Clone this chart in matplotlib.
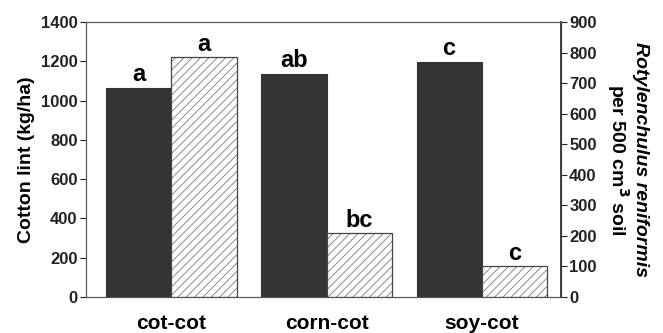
import matplotlib
matplotlib.use("Agg")
import matplotlib.pyplot as plt
import numpy as np

ROTATIONS = ["cot-cot", "corn-cot", "soy-cot"]  # crop sequences
LINT = [1064, 1135, 1196]  # cotton lint [kg/ha], left axis
NEMATODES = [785, 209, 101]  # R. reniformis per 500 cm3 soil, right axis
LINT_LETTERS = ["a", "ab", "c"]
NEMA_LETTERS = ["a", "bc", "c"]

plt.rcParams['font.family'] = ['Liberation Sans', 'DejaVu Sans']
plt.rcParams['font.weight'] = 'bold'
plt.rcParams['hatch.linewidth'] = 0.7

DARK = "#333333"
W = 0.42

fig = plt.figure(figsize=(6.63, 3.33), dpi=100)
ax1 = fig.add_axes([0.1297, 0.108, 0.7163, 0.826])
ax2 = ax1.twinx()

x = np.arange(len(ROTATIONS))

# yield bars (left axis)
ax1.bar(x - W / 2, LINT, W, color=DARK, edgecolor=DARK, linewidth=0.8)
for xi, v, t in zip(x, LINT, LINT_LETTERS):
    ax1.text(xi - W / 2, v + 8, t, ha="center", va="bottom", fontsize=17, fontweight="bold")

# nematode bars (right axis), hatch drawn in grey then outlined
ax2.bar(x + W / 2, NEMATODES, W, color="white", edgecolor="#8a8a8a", hatch="////", linewidth=0)
ax2.bar(x + W / 2, NEMATODES, W, fill=False, edgecolor="#444444", linewidth=0.9)
for xi, v, t in zip(x, NEMATODES, NEMA_LETTERS):
    ax2.text(xi + W / 2, v + 5, t, ha="center", va="bottom", fontsize=17, fontweight="bold")

ax1.set_xlim(-0.55, 2.51)
ax1.set_ylim(0, 1400)
ax1.set_yticks(range(0, 1401, 200))
ax2.set_ylim(0, 900)
ax2.set_yticks(range(0, 901, 100))

ax1.set_xticks(x)
ax1.set_xticklabels(ROTATIONS, fontsize=15, fontweight="bold")
ax1.tick_params(axis="x", length=0, pad=12)
ax1.tick_params(axis="y", labelsize=12, length=4, width=0.8, pad=2, colors="#222222")
ax2.tick_params(axis="y", labelsize=12, length=4, width=0.8, pad=2, colors="#222222")

for sp in ax1.spines.values():
    sp.set_linewidth(0.8)
    sp.set_color("#555555")
for sp in ax2.spines.values():
    sp.set_linewidth(0.8)
    sp.set_color("#555555")
ax2.spines["right"].set_linewidth(1.3)
ax2.spines["right"].set_color("#333333")

ax1.set_ylabel("Cotton lint (kg/ha)", fontsize=14, fontweight="bold", labelpad=4)

# two-line right label, first line italic
fig.text(0.966, 0.52, "Rotylenchulus reniformis", rotation=270, ha="center", va="center",
         fontsize=14, fontweight="bold", fontstyle="italic")
fig.text(0.932, 0.52, "per 500 cm$^\\mathbf{3}$ soil", rotation=270, ha="center", va="center",
         fontsize=14, fontweight="bold")

fig.savefig("out.png", dpi=100)
